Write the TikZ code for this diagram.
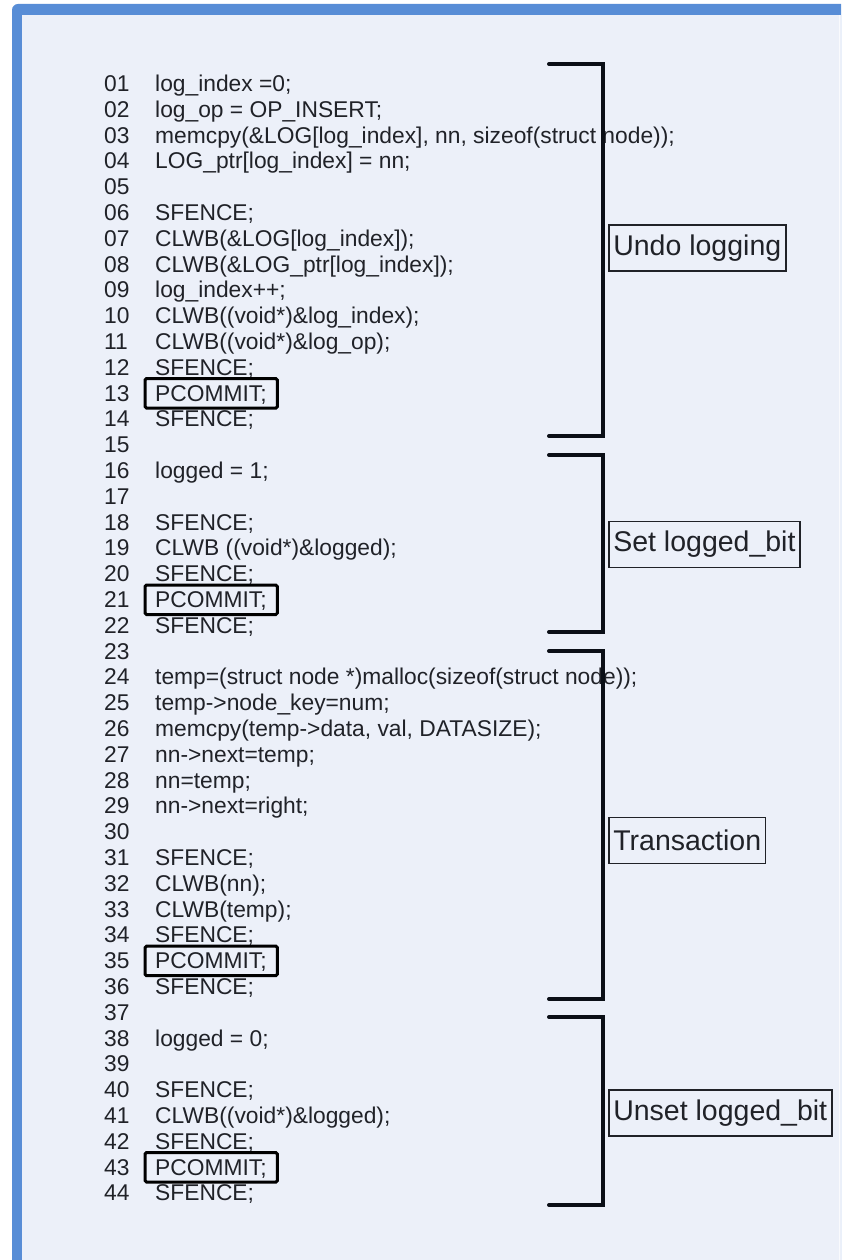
\documentclass[tikz,border=0pt]{standalone}
\usepackage{fontspec}
\setmainfont{Liberation Sans}
\usetikzlibrary{calc}

\definecolor{frameblue}{HTML}{588DD6}
\definecolor{panel}{HTML}{ECF0F9}
\definecolor{ink}{HTML}{202228}
\definecolor{bracketink}{HTML}{0B0F17}

% one line of the listing, placed on its baseline
\newcommand{\codeat}[2]{%
  \node[code] (c#1) at (155,{91.5+(#1-1)*25.8}) {#2};}

\begin{document}
\begin{tikzpicture}[x=1pt,y=-1pt,
  code/.style={anchor=base west,inner sep=0pt,text=ink,
    font=\fontsize{22.8pt}{25.8pt}\selectfont},
  lineno/.style={code},
  tag/.style={draw=ink,line width=1.6pt,anchor=west,inner xsep=4.5pt,
    minimum height=46pt,text=ink,font=\fontsize{28.5pt}{32pt}\selectfont},
  pbox/.style={draw=black,line width=3pt,rounded corners=1.5pt},
  bracket/.style={draw=bracketink,line width=4pt,line cap=round}]

\useasboundingbox (0,0) rectangle (841,1260);
\clip (0,0) rectangle (841,1260);

% panel with its blue frame
\fill[white] (0,0) rectangle (841,1260);
\fill[frameblue,rounded corners=6pt] (12,4) rectangle (880,1300);
\fill[panel] (22,15) rectangle (900,1300);
\draw[white!70!panel,line width=1pt] (839.5,15) -- (839.5,1260);

% line numbers
\foreach \i in {1,...,44}{
  \node[lineno] (n\i) at (104,{91.5+(\i-1)*25.8}) {\ifnum\i<10 0\fi\i};
}

% listing
\codeat{1}{log\_index =0;}
\codeat{2}{log\_op = OP\_INSERT;}
\codeat{3}{memcpy(\&LOG[log\_index], nn, sizeof(struct node));}
\codeat{4}{LOG\_ptr[log\_index] = nn;}
\codeat{6}{SFENCE;}
\codeat{7}{CLWB(\&LOG[log\_index]);}
\codeat{8}{CLWB(\&LOG\_ptr[log\_index]);}
\codeat{9}{log\_index++;}
\codeat{10}{CLWB((void*)\&log\_index);}
\codeat{11}{CLWB((void*)\&log\_op);}
\codeat{12}{SFENCE;}
\codeat{13}{PCOMMIT;}
\codeat{14}{SFENCE;}
\codeat{16}{logged = 1;}
\codeat{18}{SFENCE;}
\codeat{19}{CLWB ((void*)\&logged);}
\codeat{20}{SFENCE;}
\codeat{21}{PCOMMIT;}
\codeat{22}{SFENCE;}
\codeat{24}{temp=(struct node *)malloc(sizeof(struct node));}
\codeat{25}{temp->node\_key=num;}
\codeat{26}{memcpy(temp->data, val, DATASIZE);}
\codeat{27}{nn->next=temp;}
\codeat{28}{nn=temp;}
\codeat{29}{nn->next=right;}
\codeat{31}{SFENCE;}
\codeat{32}{CLWB(nn);}
\codeat{33}{CLWB(temp);}
\codeat{34}{SFENCE;}
\codeat{35}{PCOMMIT;}
\codeat{36}{SFENCE;}
\codeat{38}{logged = 0;}
\codeat{40}{SFENCE;}
\codeat{41}{CLWB((void*)\&logged);}
\codeat{42}{SFENCE;}
\codeat{43}{PCOMMIT;}
\codeat{44}{SFENCE;}

% boxes round the PCOMMIT lines
\foreach \c in {c13,c21,c35,c43}{
  \draw[pbox] ($(\c.base west)+(-10,-22.5)$) rectangle ($(\c.base east)+(10.5,7)$);
}

% brackets grouping the phases
\draw[bracket] (549,64)   -- (603,64)   -- (603,436)  -- (549,436);
\draw[bracket] (549,455)  -- (603,455)  -- (603,632)  -- (549,632);
\draw[bracket] (549,651)  -- (603,651)  -- (603,999)  -- (549,999);
\draw[bracket] (549,1017) -- (603,1017) -- (603,1205) -- (549,1205);

% phase labels
\node[tag] (undo)  at (608,248)   {Undo logging};
\node[tag] (set)   at (608,544.5) {Set logged\_bit};
\node[tag] (txn)   at (608,840.5) {Transaction};
\node[tag] (unset) at (608,1113)  {Unset logged\_bit};

\end{tikzpicture}
\end{document}
